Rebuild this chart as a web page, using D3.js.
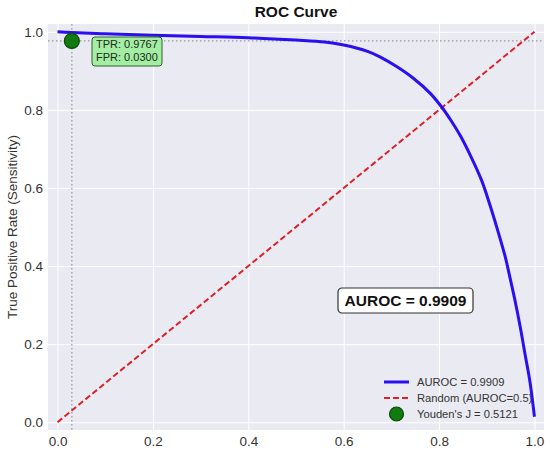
<!DOCTYPE html>
<html>
<head>
<meta charset="utf-8">
<script src="https://cdn.jsdelivr.net/npm/d3@7"></script>
<style>
  body { margin: 0; background: #fff; }
  svg { font-family: "Liberation Sans", Arial, sans-serif; }
</style>
</head>
<body>
<div id="chart"></div>
<script>
// curve
const fpr = [0, 0.03, 0.1, 0.2, 0.3, 0.4, 0.5, 0.56, 0.6, 0.65, 0.676, 0.711, 0.746, 0.781, 0.805, 0.826, 0.845, 0.865, 0.889, 0.907, 0.924, 0.938, 0.948, 0.959, 0.97, 0.98, 0.991, 1.0];
const tpr = [1.0, 0.998, 0.995, 0.991, 0.988, 0.985, 0.979, 0.974, 0.966, 0.95, 0.936, 0.911, 0.881, 0.843, 0.808, 0.771, 0.733, 0.685, 0.62, 0.555, 0.487, 0.427, 0.374, 0.313, 0.245, 0.176, 0.1, 0.014];
const randomLine = [0, 1];
const youden = { fpr: 0.03, tpr: 0.9767, j: 0.5121 };
const auroc = 0.9909;
const ticks = [0, 0.2, 0.4, 0.6, 0.8, 1.0];

const width = 550;
const height = 450;
const plotLeft = 48, plotRight = 544, plotTop = 24, plotBottom = 430;

const svg = d3.select("#chart").append("svg")
  .attr("width", width)
  .attr("height", height);

const x = d3.scaleLinear().domain([-0.02, 1.02]).range([plotLeft, plotRight]);
const y = d3.scaleLinear().domain([-0.02, 1.02]).range([plotBottom, plotTop]);

svg.append("rect")
  .attr("x", plotLeft).attr("y", plotTop)
  .attr("width", plotRight - plotLeft).attr("height", plotBottom - plotTop)
  .attr("fill", "#eaeaf2");

// grid
svg.append("g")
  .attr("transform", "translate(0," + plotBottom + ")")
  .call(d3.axisBottom(x).tickValues(ticks).tickSize(-(plotBottom - plotTop)).tickFormat(""))
  .call(g => g.select(".domain").remove())
  .call(g => g.selectAll("line").attr("stroke", "#fff").attr("stroke-width", 1));
svg.append("g")
  .attr("transform", "translate(" + plotLeft + ",0)")
  .call(d3.axisLeft(y).tickValues(ticks).tickSize(-(plotRight - plotLeft)).tickFormat(""))
  .call(g => g.select(".domain").remove())
  .call(g => g.selectAll("line").attr("stroke", "#fff").attr("stroke-width", 1));

// tick labels
svg.append("g")
  .attr("transform", "translate(0," + (plotBottom + 3) + ")")
  .call(d3.axisBottom(x).tickValues(ticks).tickSize(0).tickFormat(d3.format(".1f")))
  .call(g => g.select(".domain").remove())
  .call(g => g.selectAll("text").attr("font-size", "13.5px").attr("fill", "#333")
    .attr("font-family", "'Liberation Sans', Arial, sans-serif"));
svg.append("g")
  .attr("transform", "translate(" + (plotLeft - 2) + ",0)")
  .call(d3.axisLeft(y).tickValues(ticks).tickSize(0).tickFormat(d3.format(".1f")))
  .call(g => g.select(".domain").remove())
  .call(g => g.selectAll("text").attr("font-size", "13.5px").attr("fill", "#333")
    .attr("font-family", "'Liberation Sans', Arial, sans-serif"));

svg.append("text")
  .attr("x", (plotLeft + plotRight) / 2).attr("y", 17)
  .attr("text-anchor", "middle")
  .attr("font-size", "15.5px").attr("font-weight", "bold").attr("fill", "#111")
  .text("ROC Curve");

svg.append("text")
  .attr("transform", "translate(17," + (plotTop + plotBottom) / 2 + ") rotate(-90)")
  .attr("text-anchor", "middle")
  .attr("font-size", "13.5px").attr("fill", "#333")
  .text("True Positive Rate (Sensitivity)");

// youden guide lines
svg.append("line")
  .attr("x1", x(youden.fpr)).attr("x2", x(youden.fpr))
  .attr("y1", plotTop).attr("y2", plotBottom)
  .attr("stroke", "#999").attr("stroke-width", 1.2).attr("stroke-dasharray", "1.5,2.5");
svg.append("line")
  .attr("x1", plotLeft).attr("x2", plotRight)
  .attr("y1", y(youden.tpr)).attr("y2", y(youden.tpr))
  .attr("stroke", "#999").attr("stroke-width", 1.2).attr("stroke-dasharray", "1.5,2.5");

// random diagonal
svg.append("line")
  .attr("x1", x(randomLine[0])).attr("y1", y(randomLine[0]))
  .attr("x2", x(randomLine[1])).attr("y2", y(randomLine[1]))
  .attr("stroke", "#d9232a").attr("stroke-width", 2).attr("stroke-dasharray", "6,3");

// legend (drawn under the curve, as in the picture)
const legend = svg.append("g").attr("transform", "translate(384,0)");
const rows = [
  { label: "AUROC = " + auroc.toFixed(4), y: 382, type: "line" },
  { label: "Random (AUROC=0.5)", y: 398, type: "dash" },
  { label: "Youden's J = " + youden.j.toFixed(4), y: 414, type: "dot" }
];
rows.forEach(function(r) {
  if (r.type === "line") {
    legend.append("line").attr("x1", 0).attr("x2", 25).attr("y1", r.y).attr("y2", r.y)
      .attr("stroke", "#2a0ff0").attr("stroke-width", 3);
  } else if (r.type === "dash") {
    legend.append("line").attr("x1", 0).attr("x2", 25).attr("y1", r.y).attr("y2", r.y)
      .attr("stroke", "#d9232a").attr("stroke-width", 2).attr("stroke-dasharray", "6,3");
  } else {
    legend.append("circle").attr("cx", 12.5).attr("cy", r.y).attr("r", 7)
      .attr("fill", "#117a11").attr("stroke", "#0a4a0a").attr("stroke-width", 1.2);
  }
  legend.append("text").attr("x", 33).attr("y", r.y).attr("dy", "0.35em")
    .attr("font-size", "11.2px").attr("fill", "#333").text(r.label);
});

// ROC curve
const line = d3.line()
  .curve(d3.curveCatmullRom.alpha(0.5))
  .x(function(d, i) { return x(fpr[i]); })
  .y(function(d, i) { return y(tpr[i]); });
svg.append("path")
  .datum(fpr)
  .attr("d", line)
  .attr("fill", "none")
  .attr("stroke", "#2a0ff0")
  .attr("stroke-width", 3)
  .attr("stroke-linejoin", "round");

// youden point
svg.append("circle")
  .attr("cx", x(youden.fpr)).attr("cy", y(youden.tpr)).attr("r", 7.5)
  .attr("fill", "#117a11").attr("stroke", "#0a4a0a").attr("stroke-width", 1.2);

// annotation box
const ann = svg.append("g").attr("transform", "translate(92,37)");
ann.append("rect").attr("width", 70).attr("height", 29).attr("rx", 3)
  .attr("fill", "#a4eea4").attr("stroke", "#2e5e2e").attr("stroke-width", 1);
ann.append("text").attr("x", 4).attr("y", 11).attr("font-size", "11px").attr("fill", "#1c2a1c")
  .text("TPR: " + youden.tpr.toFixed(4));
ann.append("text").attr("x", 4).attr("y", 24).attr("font-size", "11px").attr("fill", "#1c2a1c")
  .text("FPR: " + youden.fpr.toFixed(4));

// AUROC box
const box = svg.append("g").attr("transform", "translate(338,288)");
box.append("rect").attr("width", 135).attr("height", 25).attr("rx", 4)
  .attr("fill", "#fff").attr("stroke", "#333").attr("stroke-width", 1.2);
box.append("text").attr("x", 67.5).attr("y", 12.5).attr("dy", "0.35em")
  .attr("text-anchor", "middle").attr("font-size", "15.5px").attr("font-weight", "bold")
  .attr("fill", "#111").text("AUROC = " + auroc.toFixed(4));
</script>
</body>
</html>
